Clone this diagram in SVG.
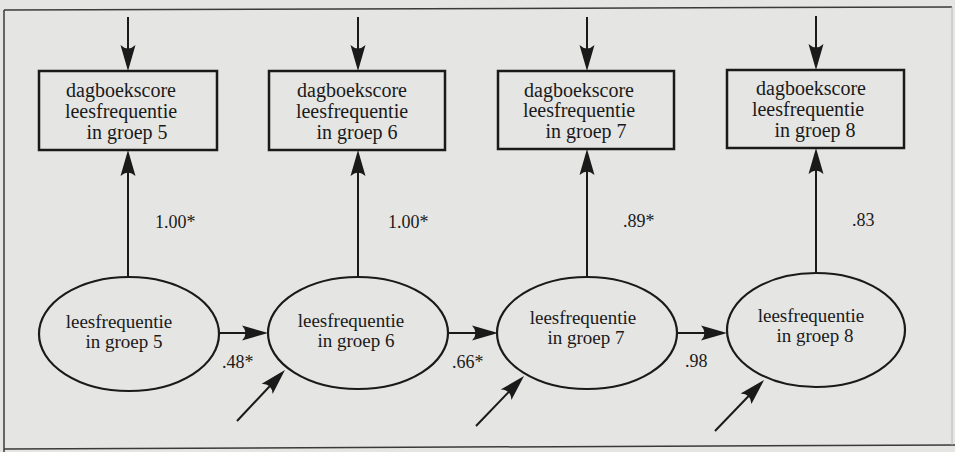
<svg xmlns="http://www.w3.org/2000/svg" width="955" height="452" viewBox="0 0 955 452">
<style>
  .bg{fill:#e5e5e3}
  .frame{stroke:#3a3a3a;stroke-width:1.5;fill:none}
  .box{fill:none;stroke:#1a1a1a;stroke-width:2.5}
  .ell{fill:none;stroke:#1a1a1a;stroke-width:2.2}
  text{font-family:'Liberation Serif','Times New Roman','DejaVu Serif',serif;fill:#1a1a1a}
  .t{font-size:20px;text-anchor:middle}
  .e{font-size:19px;text-anchor:middle}
  .c{font-size:18px}
  .conn line{stroke:#1a1a1a;stroke-width:2;fill:none;marker-end:url(#ah)}
</style>
<defs>
  <marker id="ah" viewBox="-27 -8 28 16" refX="-8" refY="0" markerWidth="28" markerHeight="16" markerUnits="userSpaceOnUse" orient="auto">
    <path d="M0,0 L-26,-7.5 Q-19,0 -26,7.5 Z" fill="#1a1a1a"/>
  </marker>
</defs>
<rect class="bg" x="0" y="0" width="955" height="452"/>
<g id="frame">
  <line class="frame" x1="4" y1="10" x2="952" y2="7"/>
  <line class="frame" x1="4" y1="10" x2="4" y2="452"/>
  <line class="frame" x1="4" y1="449" x2="955" y2="445"/>
  <line x1="952" y1="7" x2="952" y2="445" stroke="#b8b8b8" stroke-width="1"/>
</g>
<g id="box5">
  <rect class="box" x="39" y="71" width="178" height="79"/>
  <text class="t" x="121" y="97">dagboekscore</text>
  <text class="t" x="121" y="118">leesfrequentie</text>
  <text class="t" x="127" y="139">in groep 5</text>
</g>
<g id="box6">
  <rect class="box" x="269" y="71" width="176" height="79"/>
  <text class="t" x="352" y="97">dagboekscore</text>
  <text class="t" x="352" y="118">leesfrequentie</text>
  <text class="t" x="357" y="139">in groep 6</text>
</g>
<g id="box7">
  <rect class="box" x="498" y="71" width="176" height="78"/>
  <text class="t" x="579" y="97">dagboekscore</text>
  <text class="t" x="579" y="117">leesfrequentie</text>
  <text class="t" x="586" y="138">in groep 7</text>
</g>
<g id="box8">
  <rect class="box" x="727" y="70" width="177" height="78"/>
  <text class="t" x="811" y="95">dagboekscore</text>
  <text class="t" x="808" y="116">leesfrequentie</text>
  <text class="t" x="815" y="137">in groep 8</text>
</g>
<g id="lat5">
  <ellipse class="ell" cx="129" cy="334" rx="90" ry="57"/>
  <text class="e" x="119" y="328">leesfrequentie</text>
  <text class="e" x="124" y="348">in groep 5</text>
</g>
<g id="lat6">
  <ellipse class="ell" cx="358" cy="333" rx="90" ry="56"/>
  <text class="e" x="351" y="327">leesfrequentie</text>
  <text class="e" x="356" y="347">in groep 6</text>
</g>
<g id="lat7">
  <ellipse class="ell" cx="587" cy="333" rx="90" ry="56"/>
  <text class="e" x="583" y="324">leesfrequentie</text>
  <text class="e" x="586" y="344">in groep 7</text>
</g>
<g id="lat8">
  <ellipse class="ell" cx="816" cy="330" rx="89" ry="57"/>
  <text class="e" x="811" y="322">leesfrequentie</text>
  <text class="e" x="815" y="342">in groep 8</text>
</g>
<g id="connectors" class="conn">
  <line x1="128" y1="17" x2="128" y2="63"/>
  <line x1="358" y1="17" x2="358" y2="63"/>
  <line x1="587" y1="17" x2="587" y2="63"/>
  <line x1="816" y1="16" x2="816" y2="62"/>
  <line x1="128" y1="277" x2="128" y2="158"/>
  <line x1="358" y1="277" x2="358" y2="158"/>
  <line x1="587" y1="277" x2="587" y2="157"/>
  <line x1="816" y1="273" x2="816" y2="156"/>
  <line x1="219" y1="333" x2="260" y2="333"/>
  <line x1="448" y1="333" x2="490" y2="333"/>
  <line x1="677" y1="333" x2="719" y2="333"/>
  <line x1="237" y1="421" x2="279.5" y2="375.8"/>
  <line x1="476" y1="426" x2="518.5" y2="381.8"/>
  <line x1="715" y1="431" x2="758.5" y2="385.8"/>
</g>
<g id="labels">
  <text class="c" x="155" y="228">1.00*</text>
  <text class="c" x="388" y="228">1.00*</text>
  <text class="c" x="623" y="227">.89*</text>
  <text class="c" x="852" y="226">.83</text>
  <text class="c" x="222" y="368">.48*</text>
  <text class="c" x="452" y="368">.66*</text>
  <text class="c" x="685" y="367">.98</text>
</g>
</svg>
